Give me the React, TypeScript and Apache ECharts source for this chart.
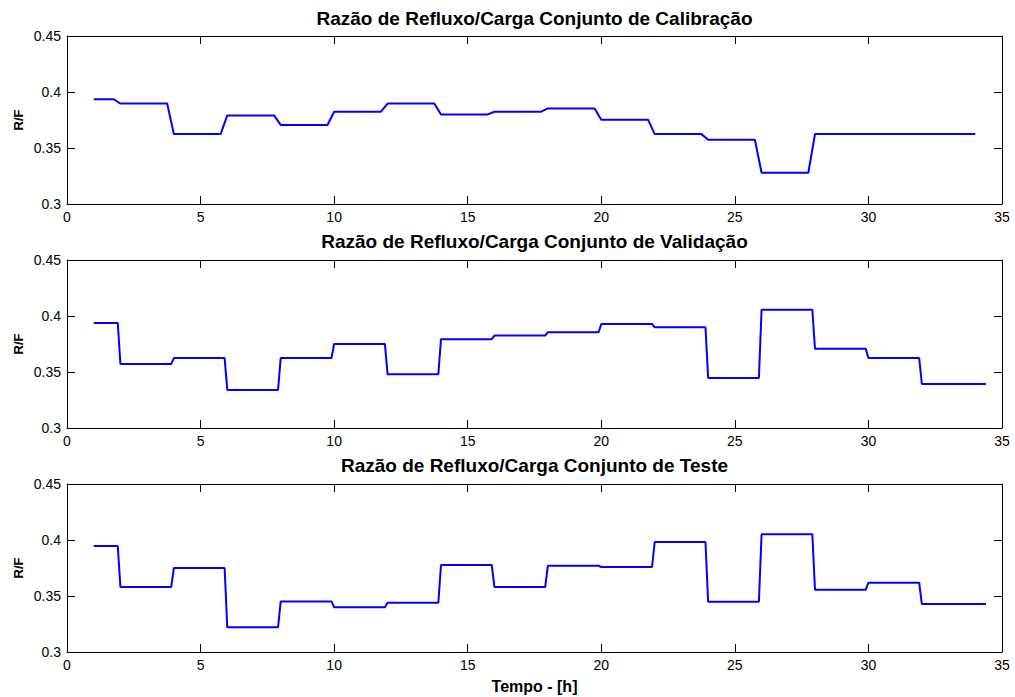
import React, { useEffect, useRef } from "react";
import * as echarts from "echarts";

// Block start times [h] and the R/F ratio held during each block
const calibStarts = [1, 2, 4, 6, 8, 10, 12, 14, 16, 18, 20, 22, 24, 26, 28];
const calibValues = [
  0.3935, 0.3897, 0.3624, 0.3791, 0.3706, 0.3824, 0.3897, 0.38, 0.3824, 0.3853,
  0.3753, 0.3624, 0.3574, 0.3279, 0.3624,
];
const calibStep = 0.25;
const calibEnd = 34;

const validStarts = [1, 2, 4, 6, 8, 10, 12, 14, 16, 18, 20, 22, 24, 26, 28, 30, 32];
const validValues = [
  0.3938, 0.3571, 0.3624, 0.334, 0.3624, 0.3751, 0.3479, 0.3793, 0.3825, 0.3855,
  0.3929, 0.3899, 0.3447, 0.4056, 0.3707, 0.3624, 0.3393,
];
const validStep = 0.1;
const validEnd = 34.4;

const testStarts = [1, 2, 4, 6, 8, 10, 12, 14, 16, 18, 20, 22, 24, 26, 28, 30, 32];
const testValues = [
  0.3946, 0.358, 0.375, 0.322, 0.3452, 0.3399, 0.344, 0.3777, 0.358, 0.377,
  0.3759, 0.3982, 0.3449, 0.4051, 0.3556, 0.3619, 0.3428,
];
const testStep = 0.1;
const testEnd = 34.4;

const titles = [
  "Razão de Refluxo/Carga Conjunto de Calibração",
  "Razão de Refluxo/Carga Conjunto de Validação",
  "Razão de Refluxo/Carga Conjunto de Teste",
];
const yLabel = "R/F";
const xLabel = "Tempo - [h]";

const xMin = 0;
const xMax = 35;
const xInterval = 5;
const yMin = 0.3;
const yMax = 0.45;
const yInterval = 0.05;

// Sampled hold signal: each block keeps its value until one sample before the next block
function holdSeries(starts: number[], values: number[], step: number, end: number) {
  const pts: number[][] = [];
  starts.forEach((s, i) => {
    const stop = i < starts.length - 1 ? starts[i + 1] - step : end;
    pts.push([s, values[i]], [stop, values[i]]);
  });
  return pts;
}

const FONT = "'Liberation Sans', Arial, Helvetica, sans-serif";

export default function App() {
  const ref = useRef<HTMLDivElement>(null);

  useEffect(() => {
    document.body.style.margin = "0";
    if (!ref.current) return;
    const chart = echarts.init(ref.current, undefined, { renderer: "svg" });

    const panels = [
      holdSeries(calibStarts, calibValues, calibStep, calibEnd),
      holdSeries(validStarts, validValues, validStep, validEnd),
      holdSeries(testStarts, testValues, testStep, testEnd),
    ];
    const gridTops = [36, 260, 484];
    const gridH = 168;
    const gridL = 67;
    const gridW = 935;
    const titleY = [18, 241.5, 465.5];

    const axisLine = { lineStyle: { color: "#000", width: 1 }, onZero: false };
    const tick = { inside: true, length: 8, lineStyle: { color: "#000" } };
    const label = { color: "#000", fontSize: 14, fontFamily: FONT };

    const grid: any[] = [];
    const xAxis: any[] = [];
    const yAxis: any[] = [];
    const series: any[] = [];
    const graphic: any[] = [];

    panels.forEach((data, p) => {
      grid.push({ left: gridL, top: gridTops[p], width: gridW, height: gridH });
      const xBase = { type: "value", gridIndex: p, min: xMin, max: xMax, interval: xInterval, splitLine: { show: false }, axisLine, axisTick: tick };
      xAxis.push({ ...xBase, position: "bottom", axisLabel: { ...label, margin: 6 } });
      xAxis.push({ ...xBase, position: "top", axisLabel: { show: false } });
      const yBase = { type: "value", gridIndex: p, min: yMin, max: yMax, interval: yInterval, splitLine: { show: false }, axisLine, axisTick: tick };
      yAxis.push({
        ...yBase,
        position: "left",
        axisLabel: { ...label, margin: 6, formatter: (v: number) => String(+v.toFixed(2)) },
      });
      yAxis.push({ ...yBase, position: "right", axisLabel: { show: false } });
      series.push({
        type: "line",
        xAxisIndex: 2 * p,
        yAxisIndex: 2 * p,
        data,
        showSymbol: false,
        lineStyle: { color: "#0000ff", width: 2 },
        itemStyle: { color: "#0000ff" },
      });
      graphic.push({
        type: "text",
        x: gridL + gridW / 2,
        y: titleY[p],
        style: { text: titles[p], fontSize: 19, fontWeight: "bold", fontFamily: FONT, fill: "#000", align: "center", verticalAlign: "middle" },
      });
      graphic.push({
        type: "text",
        x: 18,
        y: gridTops[p] + gridH / 2,
        rotation: Math.PI / 2,
        style: { text: yLabel, fontSize: 13, fontWeight: "bold", fontFamily: FONT, fill: "#000", align: "center", verticalAlign: "middle" },
      });
    });

    graphic.push({
      type: "text",
      x: gridL + gridW / 2,
      y: 686.5,
      style: { text: xLabel, fontSize: 16, fontWeight: "bold", fontFamily: FONT, fill: "#000", align: "center", verticalAlign: "middle" },
    });

    chart.setOption({
      animation: false,
      backgroundColor: "#fff",
      grid,
      xAxis,
      yAxis,
      series,
      graphic,
    });

    return () => chart.dispose();
  }, []);

  return <div ref={ref} style={{ width: 1015, height: 697 }} />;
}
